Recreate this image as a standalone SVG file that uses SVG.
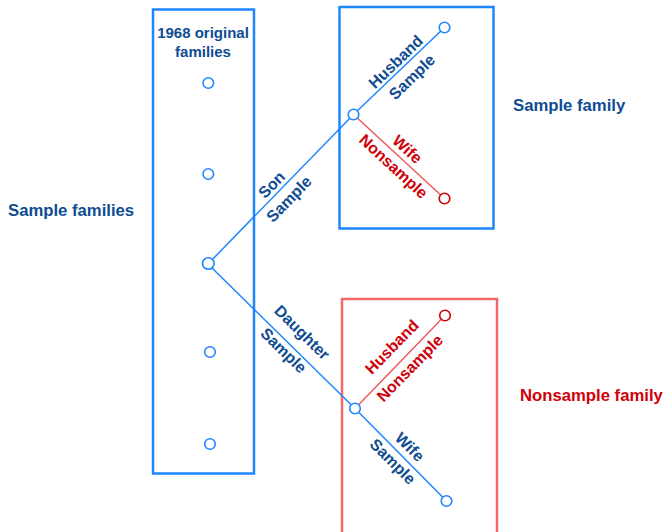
<svg xmlns="http://www.w3.org/2000/svg" width="666" height="532" viewBox="0 0 666 532">
<style>
text{font-family:"Liberation Sans",Arial,sans-serif;font-weight:bold}
.bt{fill:#0f4c92}
.rt{fill:#d0000a}
.box{fill:none;stroke:#1e86ff;stroke-width:2.5}
.rbox{fill:none;stroke:#f26868;stroke-width:2.5}
.bl{stroke:#1e86ff;stroke-width:1.5;fill:none}
.rl{stroke:#f05a5a;stroke-width:1.5;fill:none}
.bc{fill:#fff;stroke:#1e86ff;stroke-width:1.6}
.rc{fill:#fff;stroke:#cc0000;stroke-width:1.6}
.side{font-size:16.7px}
.lab{font-size:15px;text-anchor:middle}
.dl{font-size:16px;text-anchor:middle}
</style>
<rect width="666" height="532" fill="#fff"/>
<g id="labels">
<text class="bt side" x="8" y="216">Sample families</text>
<text class="bt side" x="513" y="111">Sample family</text>
<text class="rt side" x="520" y="401">Nonsample family</text>
</g>
<g id="original-families">
<rect class="box" x="153" y="9.5" width="101" height="464"/>
<text class="bt lab" x="203" y="38">1968 original</text>
<text class="bt lab" x="203" y="57">families</text>
</g>
<g id="sample-family">
<rect class="box" x="339.5" y="7" width="154" height="221.5"/>
</g>
<g id="nonsample-family">
<rect class="rbox" x="342" y="299" width="155" height="240"/>
</g>
<g id="connectors">
<line class="bl" x1="208" y1="264" x2="353.5" y2="114.5"/>
<line class="bl" x1="353.5" y1="114.5" x2="444.5" y2="27.5"/>
<line class="rl" x1="353.5" y1="114.5" x2="444.5" y2="198.5"/>
<line class="bl" x1="208" y1="264" x2="355" y2="408.5"/>
<line class="rl" x1="355" y1="408.5" x2="445" y2="315.5"/>
<line class="bl" x1="355" y1="408.5" x2="446.5" y2="501"/>
<g id="edge-labels">
<text class="bt dl" transform="translate(271.5,184.5) rotate(-45.8)" dy="0.36em">Son</text>
<text class="bt dl" transform="translate(290,200) rotate(-45.8)" dy="0.25em">Sample</text>
<text class="bt dl" transform="translate(395.5,61.5) rotate(-44)" dy="0.36em">Husband</text>
<text class="bt dl" transform="translate(413,78) rotate(-44)" dy="0.25em">Sample</text>
<text class="rt dl" transform="translate(407.5,149) rotate(42.5)" dy="0.36em">Wife</text>
<text class="rt dl" transform="translate(392.5,167.5) rotate(42.5)" dy="0.25em">Nonsample</text>
<text class="bt dl" transform="translate(301,333.5) rotate(44.5)" dy="0.25em">Daughter</text>
<text class="bt dl" transform="translate(282.5,351.5) rotate(44.5)" dy="0.25em">Sample</text>
<text class="rt dl" transform="translate(391.7,346.7) rotate(-45.5)" dy="0.36em">Husband</text>
<text class="rt dl" transform="translate(410.8,369.2) rotate(-45.5)" dy="0.25em">Nonsample</text>
<text class="bt dl" transform="translate(410,446.7) rotate(45)" dy="0.36em">Wife</text>
<text class="bt dl" transform="translate(391.7,462.5) rotate(45)" dy="0.25em">Sample</text>
</g>
</g>
<g id="nodes">
<circle id="n1" class="bc" cx="208.3" cy="83" r="5.3"/>
<circle id="n2" class="bc" cx="208.3" cy="174" r="5.3"/>
<circle id="n3" class="bc" cx="208.3" cy="263.5" r="5.8"/>
<circle id="n4" class="bc" cx="210" cy="352" r="5.3"/>
<circle id="n5" class="bc" cx="210" cy="444" r="5.3"/>
<circle id="son" class="bc" cx="353.5" cy="114.5" r="5.3"/>
<circle id="son-husband" class="bc" cx="444.5" cy="27.5" r="5.3"/>
<circle id="son-wife" class="rc" cx="444.5" cy="198.5" r="5.3"/>
<circle id="daughter" class="bc" cx="355" cy="408.5" r="5.3"/>
<circle id="daughter-husband" class="rc" cx="445" cy="315.5" r="5.3"/>
<circle id="daughter-wife" class="bc" cx="446.5" cy="501" r="5.3"/>
</g>
</svg>
